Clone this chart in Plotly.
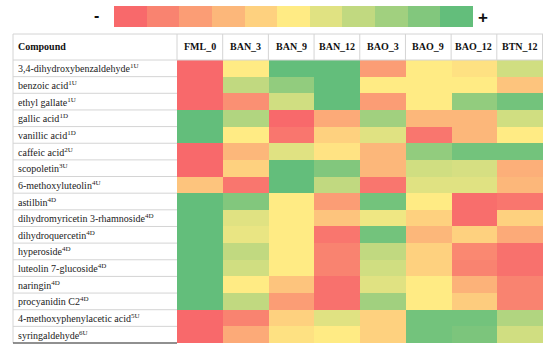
import plotly.graph_objects as go

W, H = 550, 349

samples = ["FML_0", "BAN_3", "BAN_9", "BAN_12", "BAO_3", "BAO_9", "BAO_12", "BTN_12"]
compounds = [
    "3,4-dihydroxybenzaldehyde", "benzoic acid", "ethyl gallate", "gallic acid",
    "vanillic acid", "caffeic acid", "scopoletin", "6-methoxyluteolin", "astilbin",
    "dihydromyricetin 3-rhamnoside", "dihydroquercetin", "hyperoside",
    "luteolin 7-glucoside", "naringin", "procyanidin C2",
    "4-methoxyphenylacetic acid", "syringaldehyde",
]
superscripts = ["1U", "1U", "1U", "1D", "1D", "2U", "3U", "4U", "4D", "4D", "4D",
                "4D", "4D", "4D", "4D", "5U", "6U"]

# relative level per cell: 0 = lowest (red), 5 = middle (yellow), 10 = highest (green)
values = [
    [0, 5.0, 10, 10, 2.0, 5.0, 4.6, 6.5],
    [0, 7.0, 8.5, 10, 5.0, 5.0, 5.0, 3.5],
    [0, 1.5, 6.5, 10, 2.0, 5.0, 8.5, 9.5],
    [10, 7.5, 0, 2.5, 8.0, 3.0, 3.0, 6.5],
    [10, 5.0, 0.5, 4.0, 6.0, 0.5, 3.0, 5.0],
    [0, 3.0, 6.0, 4.7, 3.0, 8.5, 9.5, 9.5],
    [0, 4.0, 10, 9.0, 3.0, 6.5, 6.3, 2.7],
    [3.5, 0.5, 10, 7.0, 0.5, 6.0, 6.0, 3.0],
    [10, 9.0, 5.0, 2.0, 9.5, 5.0, 0.2, 0.5],
    [10, 6.0, 5.0, 3.5, 5.5, 4.0, 0.2, 4.0],
    [10, 5.7, 5.0, 0.5, 9.5, 3.0, 4.0, 2.5],
    [10, 7.0, 5.0, 1.0, 7.0, 4.0, 1.2, 0.3],
    [10, 6.5, 5.0, 1.0, 6.5, 4.0, 1.0, 0.3],
    [10, 5.0, 3.5, 0.3, 6.0, 5.0, 2.8, 1.0],
    [10, 7.0, 2.0, 0.3, 8.0, 5.0, 3.8, 1.0],
    [0, 1.0, 4.0, 6.0, 4.0, 9.5, 9.5, 7.5],
    [0, 2.5, 4.6, 5.0, 4.0, 9.5, 9.2, 6.5],
]
legend_steps = list(range(11))

colorscale = [[0.0, "#F8696B"], [0.5, "#FFEB84"], [1.0, "#63BE7B"]]
FONT = "Times New Roman"
GRID = "#D4D4D4"

def px_x(p):
    return p / W

def px_y(p):
    return 1 - p / H

fig = go.Figure()
fig.add_trace(go.Heatmap(
    z=values, x=samples, y=compounds, colorscale=colorscale, zmin=0, zmax=10,
    showscale=False, hoverinfo="skip", xaxis="x", yaxis="y",
))
fig.add_trace(go.Heatmap(
    z=[legend_steps], x=legend_steps, y=[0], colorscale=colorscale, zmin=0, zmax=10,
    showscale=False, hoverinfo="skip", xaxis="x2", yaxis="y2",
))

left, colx, right = 13, 177, 543
top_head, bot_head, bottom = 34, 60, 343

shapes = []
for yy in (top_head, bot_head):
    shapes.append(dict(type="line", xref="paper", yref="paper", x0=px_x(left), x1=px_x(right),
                       y0=px_y(yy), y1=px_y(yy), line=dict(color=GRID, width=1)))
for xx in (left, colx):
    shapes.append(dict(type="line", xref="paper", yref="paper", x0=px_x(xx), x1=px_x(xx),
                       y0=px_y(top_head), y1=px_y(bot_head), line=dict(color=GRID, width=1)))
for j in range(len(samples)):
    shapes.append(dict(type="line", xref="x", yref="paper", x0=j + 0.5, x1=j + 0.5,
                       y0=px_y(top_head), y1=px_y(bot_head), line=dict(color=GRID, width=1)))
shapes.append(dict(type="line", xref="paper", yref="paper", x0=px_x(left), x1=px_x(left),
                   y0=px_y(bot_head), y1=px_y(bottom), line=dict(color=GRID, width=1)))
for i in range(len(compounds) - 1):
    shapes.append(dict(type="line", xref="paper", yref="y", x0=px_x(left), x1=px_x(colx),
                       y0=i + 0.5, y1=i + 0.5, line=dict(color=GRID, width=1)))
shapes.append(dict(type="line", xref="paper", yref="paper", x0=px_x(left), x1=px_x(colx),
                   y0=px_y(bottom), y1=px_y(bottom), line=dict(color="#222222", width=1.2)))

annotations = []
annotations.append(dict(text="<b>Compound</b>", xref="paper", yref="paper", x=px_x(16),
                        y=px_y(47), xanchor="left", yanchor="middle", showarrow=False,
                        font=dict(size=10, color="#111111")))
for s in samples:
    annotations.append(dict(text=f"<b>{s}</b>", xref="x", yref="paper", x=s, y=px_y(47),
                            xanchor="center", yanchor="middle", showarrow=False,
                            font=dict(size=10, color="#111111")))
for c, sup in zip(compounds, superscripts):
    annotations.append(dict(text=f"{c}<sup>{sup}</sup>", xref="paper", yref="y", x=px_x(16),
                            y=c, xanchor="left", yanchor="middle", showarrow=False,
                            font=dict(size=10, color="#222222")))
annotations.append(dict(text="<b>-</b>", xref="paper", yref="paper", x=px_x(96), y=px_y(15),
                        xanchor="center", yanchor="middle", showarrow=False,
                        font=dict(family="Liberation Sans", size=16, color="#111111")))
annotations.append(dict(text="<b>+</b>", xref="paper", yref="paper", x=px_x(483), y=px_y(17),
                        xanchor="center", yanchor="middle", showarrow=False,
                        font=dict(family="Liberation Sans", size=17, color="#111111")))

fig.update_layout(
    width=W, height=H, margin=dict(l=0, r=0, t=0, b=0),
    font=dict(family=FONT),
    paper_bgcolor="white", plot_bgcolor="white",
    xaxis=dict(domain=[px_x(colx), px_x(right)], visible=False),
    yaxis=dict(domain=[px_y(bottom), px_y(bot_head)], visible=False, autorange="reversed"),
    xaxis2=dict(domain=[px_x(114), px_x(473)], visible=False, anchor="y2"),
    yaxis2=dict(domain=[px_y(27), px_y(6)], visible=False, anchor="x2"),
    shapes=shapes, annotations=annotations, showlegend=False,
)

fig.write_html("out.html", config={"displayModeBar": False},
               post_script="document.body.style.margin='0';")
